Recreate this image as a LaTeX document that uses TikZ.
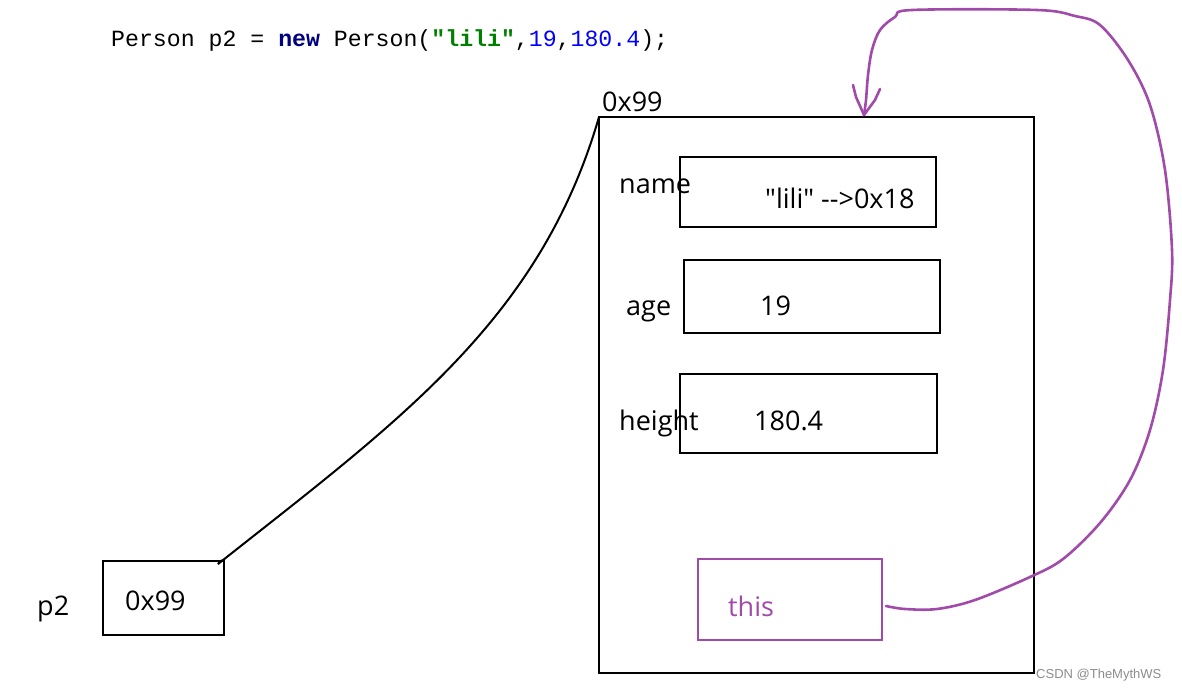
\documentclass[tikz,border=0pt]{standalone}
\usepackage{fontspec}
\setmainfont{Open Sans}[Ligatures=TeXOff]
\newfontfamily\codefont{Liberation Mono}[Ligatures=TeXOff]
\newfontfamily\wmfont{Liberation Sans}
\usetikzlibrary{calc}
\definecolor{purp}{HTML}{A04AAA}
\definecolor{kwnavy}{HTML}{000080}
\definecolor{strgreen}{HTML}{008000}
\definecolor{numblue}{HTML}{0000FF}
\begin{document}
\begin{tikzpicture}[x=1pt,y=-1pt,
  box/.style={draw=black,line width=2.6pt},
  pbox/.style={draw=purp,line width=2.4pt},
  lbl/.style={inner sep=0pt,anchor=base west,font=\fontsize{27}{32}\selectfont},
  plink/.style={draw=purp,line width=2.6pt,line cap=round,line join=round}]
\useasboundingbox (0,0) rectangle (1182,690);
% code line
\node[inner sep=0pt,anchor=base west,font=\codefont\fontsize{23.2}{28}\selectfont] (code) at (111,47)
 {Person p2 = \textcolor{kwnavy}{\bfseries new} Person(\textcolor{strgreen}{\bfseries"lili"},\textcolor{numblue}{19},\textcolor{numblue}{180.4});};
% object box
\draw[box] (599,117) rectangle (1034,673);
\coordinate (objtl) at (599,117);
\node[lbl] (addr) at (602,111) {0x99};
% fields
\draw[box] (680,157) rectangle (936,227);
\node[lbl] (nameL) at (619,193) {name};
\node[lbl] (nameV) at (765,208) {"lili" -->0x18};
\draw[box] (684,260) rectangle (940,333);
\node[lbl] (ageL) at (626,315) {age};
\node[lbl] (ageV) at (760,315) {19};
\draw[box] (680,374) rectangle (937,453);
\node[lbl] (hL) at (619,430) {height};
\node[lbl] (hV) at (754,430) {180.4};
% this box
\draw[pbox] (698,559) rectangle (882,640);
\node[lbl,text=purp] (thisL) at (728,616) {this};
% p2
\draw[box] (103,561) rectangle (224,635);
\node[lbl] (p2L) at (37,615) {p2};
\node[lbl] (p2V) at (125,610) {0x99};
\coordinate (p2tr) at (218,564);
% reference curve
\draw[line width=2pt] (p2tr) -- (222,560);
\draw[line width=2pt] (p2tr) .. controls (400,420) and (540,320) .. (objtl);
% purple this arrow
\coordinate (thisR) at (886,606);
\coordinate (tip) at (864,115);
\draw[plink] plot[smooth,tension=0.55] coordinates {(886,606) (905,609) (937,609) (975,600) (1030,577) (1063,559) (1100,523) (1130,480) (1150,430) (1163,370) (1170,300) (1172,250) (1165,170) (1150,105) (1128,60) (1100,25) (1075,16) (1037,10) (912,10) (895,17) (880,30) (872,50) (868,75) (866,100) (tip)};
\draw[plink] (853,85) -- (856,97) -- (tip) -- (875,100) -- (880,89);
% watermark
\node[inner sep=0pt,anchor=base west,text=black!45,font=\wmfont\fontsize{13}{15}\selectfont] (wm) at (1036,678) {CSDN @TheMythWS};
\end{tikzpicture}
\end{document}
